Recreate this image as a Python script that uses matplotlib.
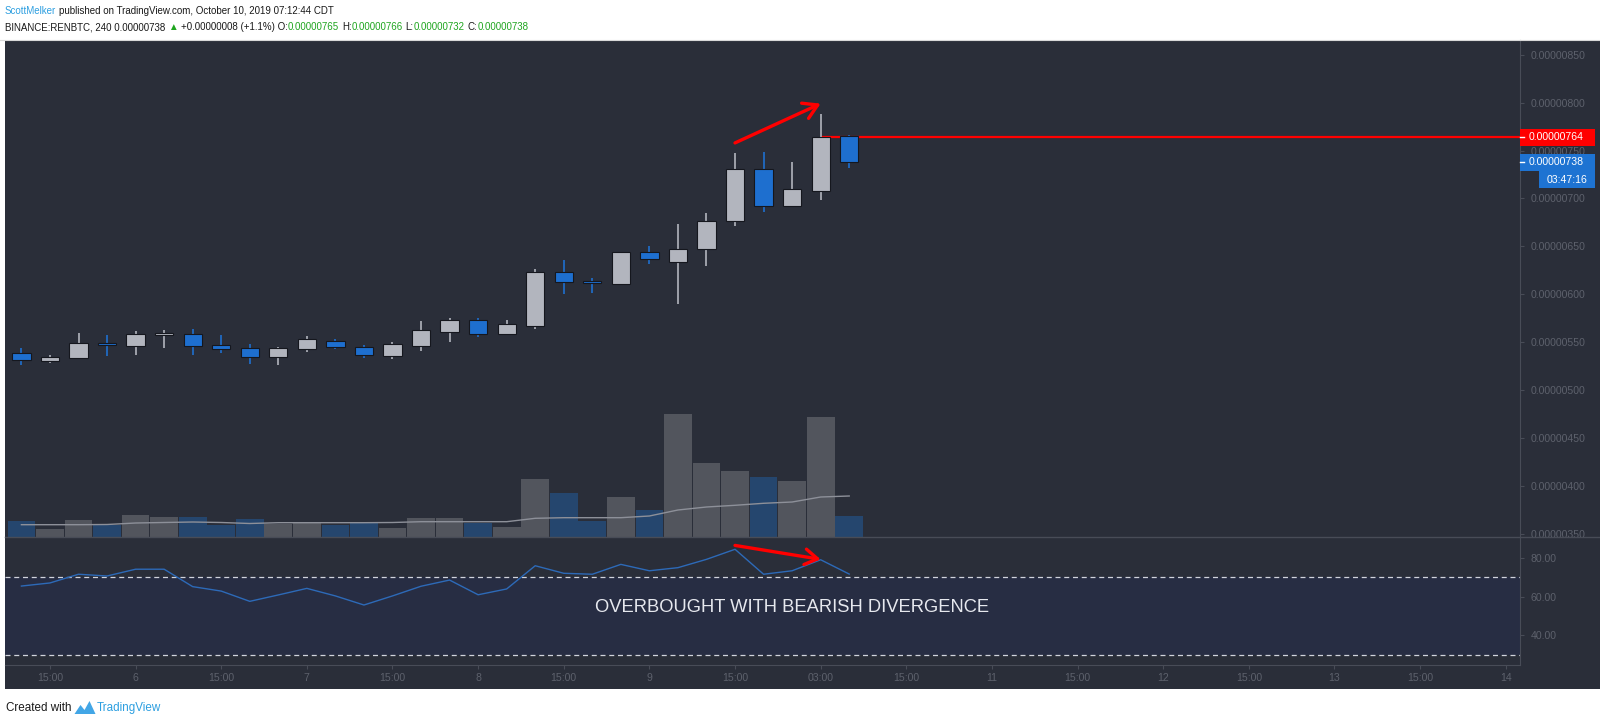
import matplotlib
matplotlib.use("Agg")
import matplotlib.pyplot as plt
import numpy as np
from matplotlib import font_manager
from matplotlib.patches import Rectangle, Polygon
from matplotlib.lines import Line2D

# 4h candles, prices in satoshi (1e-8 BTC)
opens = [539, 530, 533, 549, 546, 558, 559, 547, 544, 535, 543, 551, 545, 536, 546,
         561, 573, 559, 567, 623, 614, 611, 644, 634, 647, 676, 731, 692, 708, 765]
highs = [544, 537, 560, 558, 562, 563, 564, 557, 548, 545, 556, 553, 547, 550, 572,
         575, 575, 573, 626, 636, 617, 644, 650, 673, 685, 747, 748, 738, 788, 766]
lows = [526, 528, 532, 536, 537, 544, 537, 539, 527, 526, 540, 543, 533, 532, 541,
        550, 555, 558, 564, 600, 601, 610, 632, 590, 630, 671, 686, 691, 698, 732]
closes = [531, 535, 549, 547, 559, 560, 546, 543, 535, 544, 553, 545, 537, 548, 563,
          573, 559, 569, 623, 613, 612, 644, 637, 647, 677, 731, 692, 710, 764, 738]
# volume (relative units) and its moving average
volume = [16, 8, 17, 12, 22, 20, 20, 12, 18, 13, 14, 12, 14, 9, 19,
          19, 14, 10, 58, 44, 16, 40, 27, 123, 74, 66, 60, 56, 120, 21]
vol_ma = [12.3, 12.3, 12.3, 12.5, 14, 14.5, 15, 14.5, 13.5, 14.3, 14.3, 14.3, 14.3, 14.5, 15.3,
          15.3, 15.3, 15.3, 18.7, 19.3, 19.3, 19.3, 21, 27, 30, 31.7, 33.7, 35, 40, 41]
rsi = [65.5, 67.1, 71.6, 70.7, 74.2, 74.2, 65.2, 62.9, 57.6, 60.9, 64.3, 60.4, 55.7, 60.4, 65.4,
       68.6, 61.0, 64.0, 76.0, 72.1, 71.6, 76.7, 73.4, 75.0, 79.3, 84.5, 71.6, 73.4, 79.1, 71.7]

time_ticks = [1, 4, 7, 10, 13, 16, 19, 22, 25, 28, 31, 34, 37, 40, 43, 46, 49, 52]
time_labels = ["15:00", "6", "15:00", "7", "15:00", "8", "15:00", "9", "15:00", "03:00",
               "15:00", "11", "15:00", "12", "15:00", "13", "15:00", "14"]
price_ticks = [350, 400, 450, 500, 550, 600, 650, 700, 750, 800, 850]
rsi_ticks = [40, 60, 80]

hline_price = 764
last_price = 738
countdown = "03:47:16"
price_arrow = [(25.0, 758), (28.0, 799)]
rsi_arrow = [(25.0, 86.5), (28.0, 79.3)]
note = "OVERBOUGHT WITH BEARISH DIVERGENCE"

bg = "#2a2e39"
band = "#272d43"
axis_col = "#484c57"
lab_col = "#5d616c"
up_col = "#b2b5be"
dn_col = "#1e6fcf"
vol_up = "#52555d"
vol_dn = "#25466e"
red = "#ff0000"

names = {f.name for f in font_manager.fontManager.ttflist}
head_font = "Liberation Sans Narrow" if "Liberation Sans Narrow" in names else "Liberation Sans"
head_size = 8.4 if head_font == "Liberation Sans Narrow" else 7.0
foot_size = head_size * 1.2
plt.rcParams["font.family"] = ["Liberation Sans", "DejaVu Sans"]

W, H = 1600, 725
fig = plt.figure(figsize=(16, 7.25), dpi=100)
fig.patch.set_facecolor("white")


def fx(px):
    return px / W


def fy(py):
    return 1 - py / H


# dark panel behind everything
fig.add_artist(Rectangle((fx(5), fy(689)), fx(1595), (689 - 40) / H, transform=fig.transFigure,
                         facecolor=bg, edgecolor="none", zorder=-5))
fig.add_artist(Line2D([0, 1], [fy(39.5), fy(39.5)], color="#d9d9d9", lw=0.8))

n = len(opens)
x = np.arange(n)
xlo, xhi = -0.575, 52.5

# volume pane (behind candles)
ax_vol = fig.add_axes([fx(5), fy(537), fx(1515), (537 - 40) / H], label="vol")
ax_vol.set_facecolor(bg)
vcols = [vol_up if c >= o else vol_dn for o, c in zip(opens, closes)]
ax_vol.bar(x, volume, width=0.97, color=vcols, edgecolor="none")
ax_vol.plot(x, vol_ma, color="#8d9099", lw=1.0)
ax_vol.set_xlim(xlo, xhi)
ax_vol.set_ylim(0, max(volume) * 497 / 123)
ax_vol.set_xticks([])
ax_vol.set_yticks([])
for s in ax_vol.spines.values():
    s.set_visible(False)

# candles
ax = fig.add_axes([fx(5), fy(537), fx(1515), (537 - 40) / H], label="price")
ax.set_facecolor("none")
ccols = [up_col if c >= o else dn_col for o, c in zip(opens, closes)]
ax.vlines(x, lows, highs, colors=ccols, lw=1.2, zorder=2)
bottoms = np.minimum(opens, closes)
heights = np.maximum(np.abs(np.array(closes) - np.array(opens)), 1.2)
ax.bar(x, heights, bottom=bottoms, width=0.64, color=ccols, edgecolor="#15171e", lw=0.8, zorder=3)
ax.hlines(hline_price, 28, xhi, color=red, lw=1.6, zorder=1)
ax.annotate("", xy=price_arrow[1], xytext=price_arrow[0],
            arrowprops=dict(arrowstyle="->,head_length=0.5,head_width=0.3", color=red, lw=2.4,
                            mutation_scale=20, shrinkA=0, shrinkB=0))
ax.set_xlim(xlo, xhi)
ax.set_ylim(346.7, 865.4)
ax.set_xticks([])
ax.yaxis.tick_right()
ax.set_yticks(price_ticks, [f"{v / 1e8:.8f}" for v in price_ticks])
ax.tick_params(axis="y", length=3, color=axis_col, labelcolor=lab_col, labelsize=7.6, pad=4.5)
for k, s in ax.spines.items():
    s.set_visible(k == "right")
ax.spines["right"].set_color(axis_col)

# RSI pane
ax_r = fig.add_axes([fx(5), fy(665), fx(1515), (665 - 537) / H], label="rsi")
ax_r.set_facecolor(bg)
ax_r.axhspan(30, 70, color=band, lw=0, zorder=0)
for lvl in (70, 30):
    ax_r.axhline(lvl, color="#d1d4dc", lw=0.9, dashes=(4, 3), zorder=1)
ax_r.plot(x, rsi, color="#2d6ab8", lw=1.0, zorder=2)
ax_r.annotate("", xy=rsi_arrow[1], xytext=rsi_arrow[0],
              arrowprops=dict(arrowstyle="->,head_length=0.45,head_width=0.28", color=red, lw=2.4,
                              mutation_scale=20, shrinkA=0, shrinkB=0))
ax_r.text(27.0, 54.2, note, color="#e6e8ee", fontsize=13.2, ha="center", va="center")
ax_r.set_xlim(xlo, xhi)
ax_r.set_ylim(24.7, 90.85)
ax_r.yaxis.tick_right()
ax_r.set_yticks(rsi_ticks, [f"{v:.2f}" for v in rsi_ticks])
ax_r.set_xticks(time_ticks, time_labels)
ax_r.tick_params(axis="y", length=3, color=axis_col, labelcolor=lab_col, labelsize=7.6, pad=4.5)
ax_r.tick_params(axis="x", length=3, color=axis_col, labelcolor=lab_col, labelsize=7.6, pad=3)
for k, s in ax_r.spines.items():
    s.set_visible(k in ("right", "bottom"))
    s.set_color(axis_col)

# pane separator
fig.add_artist(Line2D([fx(5), 1], [fy(537), fy(537)], color=axis_col, lw=1.0))

# price labels on the right axis
def price_box(price, color, x0=1520, x1=1595):
    yd = ax.transData.transform((0, price))[1]
    fig.add_artist(Rectangle((fx(x0), (yd - 8.5) / H), fx(x1 - x0), 17 / H, transform=fig.transFigure,
                             facecolor=color, edgecolor="none", zorder=5))
    fig.add_artist(Line2D([fx(1520), fx(1524)], [yd / H, yd / H], color="white", lw=1, zorder=6))
    fig.text(fx(1529), yd / H, f"{price / 1e8:.8f}", color="white", fontsize=7.6,
             va="center", ha="left", zorder=6)
    return yd


price_box(hline_price, red)
yd = price_box(last_price, "#1e73d2")
fig.add_artist(Rectangle((fx(1539), (yd - 26) / H), fx(56), 17 / H, transform=fig.transFigure,
                         facecolor="#1e73d2", edgecolor="none", zorder=5))
fig.text(fx(1567), (yd - 17.5) / H, countdown, color="white", fontsize=7.6, va="center", ha="center", zorder=6)

# header lines
renderer = fig.canvas.get_renderer()


def draw_row(x0, y0, parts, size):
    xc = x0
    for s, c, gap in parts:
        xc += gap
        t = fig.text(fx(xc), fy(y0), s, color=c, fontsize=size, family=[head_font, "DejaVu Sans"],
                     va="center", ha="left")
        xc = t.get_window_extent(renderer).x1
    return xc


blk = "#1a1a1a"
grn = "#1fa51f"
sp = 3
draw_row(5, 11, [("ScottMelker", "#2d9fe0", 0),
                 ("published on TradingView.com, October 10, 2019 07:12:44 CDT", blk, sp)], head_size)
draw_row(5, 27, [("BINANCE:RENBTC, 240 0.00000738", blk, 0), ("\u25b2", grn, sp),
                 ("+0.00000008 (+1.1%) O:", blk, sp), ("0.00000765", grn, 0),
                 ("H:", blk, sp), ("0.00000766", grn, 0), ("L:", blk, sp), ("0.00000732", grn, 0),
                 ("C:", blk, sp), ("0.00000738", grn, 0)], head_size)

# footer
xe = draw_row(6, 708, [("Created with", blk, 0)], foot_size)
logo = [(xe + 3, 714), (xe + 9, 705), (xe + 13, 710), (xe + 18, 701), (xe + 24, 714)]
fig.add_artist(Polygon([(fx(a), fy(b)) for a, b in logo], closed=True, transform=fig.transFigure,
                       facecolor="#42a6e6", edgecolor="none"))
draw_row(xe + 25, 708, [("TradingView", "#2d9fe0", 0)], foot_size)

fig.savefig("out.png", dpi=100, facecolor="white")
